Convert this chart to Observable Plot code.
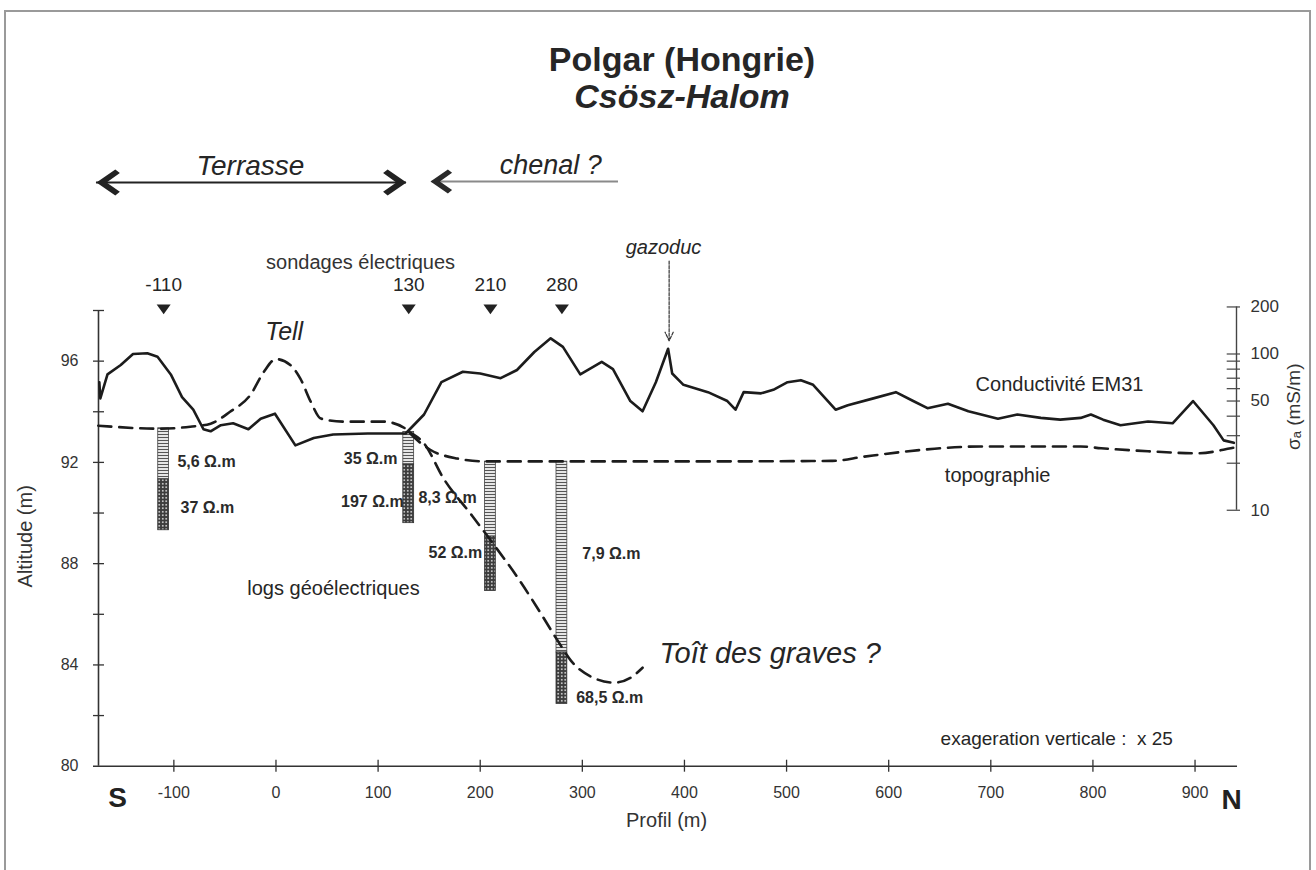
<!DOCTYPE html>
<html><head><meta charset="utf-8">
<script src="https://cdn.jsdelivr.net/npm/d3@7"></script>
<script src="https://cdn.jsdelivr.net/npm/@observablehq/plot@0.6"></script>
<style>
html,body{margin:0;padding:0;background:#fff;}
body{width:1316px;height:870px;position:relative;overflow:hidden;font-family:"Liberation Sans",Arial,sans-serif;color:#222;}
#head{position:relative;height:125px;}
.t{position:absolute;left:432px;width:500px;text-align:center;font-weight:bold;font-size:34px;line-height:34px;white-space:nowrap;color:#262626;}
#t1{top:42px;}
#t2{top:79px;font-style:italic;}
#chart svg{display:block;overflow:visible;}
#frame{position:absolute;left:4px;top:10px;width:1303px;height:900px;border:2px solid #9a9a9a;pointer-events:none;}
</style>
</head><body>
<div id="head"><div class="t" id="t1">Polgar (Hongrie)</div><div class="t" id="t2">Csösz-Halom</div></div>
<div id="chart"></div>
<div id="frame"></div>
<script>
// ---------- data ----------
// Conductivité EM31 (mS/m) along the profile (m)
const condX = [-173,-172,-165,-152,-140,-126,-116,-103,-92,-81,
  -71,-64,-54,-42,-27,-15,-1,19,37,56,
  90,127,145,162,183,200,220,236,253,269,
  281,298,319,330,347,359,372,384,388,399,
  423,442,450,458,475,487,501,514,526,548,
  560,585,607,624,638,658,678,707,726,749,
  768,788,798,810,827,854,878,898,918,928,938];
const condMS = [66,52,74,85,100,101,96,74,53,44,
  33,32,35,36,33,38.5,41.5,26,29,30.5,
  31,31,41,66,77,75,70,79,103,126,
  111,74,89,80,50,43,66,108,75,63.5,
  57,50,44,57,56,59,66,68,63.5,44,
  47,52,57,50,45,48,43,38.5,41,39,
  38,39,41,38,35,37,36,50,35,28,27];
// topographie (altitude m)
const topoX = [-174,-113,-84,-64,-45,-25,-12,0,14,24,34,44,66,105,127,130,151,178,203,357,425,545,575,610,645,690,788,808,854,903,935,940];
const topoAlt = [93.45,93.33,93.41,93.53,94.0,94.67,95.57,96.08,95.85,95.3,94.4,93.73,93.61,93.61,93.33,93.2,92.5,92.15,92.04,92.04,92.04,92.06,92.22,92.4,92.54,92.63,92.63,92.56,92.44,92.36,92.56,92.6];
// Toît des graves ?
const gravX = [130,145,164,191,213,237,256,276,289,311,331,347,359];
const gravAlt = [93.2,92.75,91.37,89.95,88.77,87.43,86.25,84.95,84.16,83.49,83.3,83.49,83.89];
// sondages électriques
const soundings = [-110,130,210,280];
const layerPos = [-110,-110,130,130,210,210,280,280];
const layerTop = [93.35,91.33,93.2,91.92,92.03,89.07,92.03,84.49];
const layerBase = [91.33,89.32,91.92,89.6,89.07,86.92,84.49,82.46];
const layerKind = ["h","d","h","d","h","d","h","d"];
const layerRho = ["5,6","37","35","197","8,3","52","7,9","68,5"];
// tick values
const xTicks = [-100,0,100,200,300,400,500,600,700,800,900];
const leftTicks = [82,84,86,88,90,92,94,96,98];
const leftLabels = [80,84,88,92,96];
const rightTicks = [10,20,30,40,50,60,70,80,90,100,200];
const rightLabels = [10,50,100,200];

// ---------- layout helpers ----------
const X0 = -173.8, X1 = 940.6;       // ends of the x axis (m)
const KX = 1.0212, KY = 25.4;          // px per unit
const sig = v => 90.11 + 6.172 * Math.log10(v / 10); // log conductivity axis -> altitude frame

const cond = condX.map((x, i) => ({x, y: sig(condMS[i])}));
const topo = topoX.map((x, i) => ({x, y: topoAlt[i]}));
const grav = gravX.map((x, i) => ({x, y: gravAlt[i]}));
const layers = layerPos.map((p, i) => ({p, top: layerTop[i], base: layerBase[i], kind: layerKind[i], rho: layerRho[i]}));

// resistivity label placement
const rhoLabX = [-96.5,-93.5,119,125,139.5,202,300,294];
const rhoLabY = [92.04,90.19,92.15,90.46,90.58,88.41,88.37,82.70];
const rhoAnchor = ["start","start","end","end","start","end","start","start"];
const rhoLabels = layers.map((d, i) => ({x: rhoLabX[i], y: rhoLabY[i], a: rhoAnchor[i], t: d.rho + " \u03A9.m"}));

// custom symbols
const headLeft = {draw(ctx, size) { const r = Math.sqrt(size / Math.PI);
  ctx.moveTo(0, 0); ctx.lineTo(1.45*r, -r); ctx.lineTo(1.8*r, -0.72*r); ctx.lineTo(0.78*r, 0);
  ctx.lineTo(1.8*r, 0.72*r); ctx.lineTo(1.45*r, r); ctx.closePath(); }};
const headRight = {draw(ctx, size) { const r = Math.sqrt(size / Math.PI);
  ctx.moveTo(0, 0); ctx.lineTo(-1.45*r, -r); ctx.lineTo(-1.8*r, -0.72*r); ctx.lineTo(-0.78*r, 0);
  ctx.lineTo(-1.8*r, 0.72*r); ctx.lineTo(-1.45*r, r); ctx.closePath(); }};
const triDown = {draw(ctx, size) { const r = Math.sqrt(size / Math.PI);
  ctx.moveTo(-r, -0.65*r); ctx.lineTo(r, -0.65*r); ctx.lineTo(0, 0.75*r); ctx.closePath(); }};

const INK = "#1c1c1c";
const FONT = '"Liberation Sans", Arial, sans-serif';

const chart = Plot.plot({
  width: 1316, height: 745,
  marginLeft: 98, marginRight: 80, marginTop: 185, marginBottom: 104.3,
  x: {domain: [X0, X1], axis: null},
  y: {domain: [80, 98], axis: null},
  style: {fontFamily: FONT, fontSize: "16px", color: "#222", background: "transparent", overflow: "visible"},
  marks: [
    // axes
    Plot.ruleY([80], {x1: X0 - 5 / KX, x2: X1 + 1, stroke: "#333", strokeWidth: 1.6}),
    Plot.ruleX([X0], {y1: 80, y2: 98, stroke: "#333", strokeWidth: 1.6}),
    Plot.ruleY(leftTicks, {x1: X0 - 5 / KX, x2: X0 + 6 / KX, stroke: "#333", strokeWidth: 1.3}),
    Plot.ruleX(xTicks, {y1: 80 - 6 / KY, y2: 80 + 6 / KY, stroke: "#333", strokeWidth: 1.3}),
    Plot.ruleX([X1], {y1: sig(10), y2: sig(200), stroke: "#444", strokeWidth: 1.4}),
    Plot.ruleY(rightTicks, {y: d => sig(d), x1: X1 - 9.3 / KX, x2: X1 + 4 / KX, stroke: "#444", strokeWidth: 1.2}),
    Plot.text(leftLabels, {x: X0 - 20 / KX, y: d => d, text: d => String(d), textAnchor: "end", fontSize: 16, fill: "#333"}),
    Plot.text(xTicks, {x: d => d, y: 80 - 26.3 / KY, text: d => String(d), fontSize: 16, fill: "#333"}),
    Plot.text(rightLabels, {x: X1 + 14 / KX, y: d => sig(d), text: d => String(d), textAnchor: "start", fontSize: 17, fill: "#333"}),
    Plot.text(["Altitude (m)"], {x: X0 - 73 / KX, y: 89.08, text: d => d, rotate: -90, fontSize: 20, fill: "#333"}),
    Plot.text(["\u03C3\u2090 (mS/m)"], {x: X1 + 57 / KX, y: 94.2, text: d => d, rotate: -90, fontSize: 19, fill: "#333"}),
    Plot.text(["Profil (m)"], {x: 382.5, y: 77.86, text: d => d, fontSize: 20, fill: "#333"}),
    Plot.text(["S"], {x: -155.2, y: 78.73, text: d => d, fontSize: 28, fontWeight: "bold", fill: "#222"}),
    Plot.text(["N"], {x: 935.8, y: 78.65, text: d => d, fontSize: 28, fontWeight: "bold", fill: "#222"}),

    // sounding columns
    Plot.rect(layers.filter(d => d.kind === "h"), {x1: d => d.p - 5.3, x2: d => d.p + 5.3, y1: "base", y2: "top", fill: "url(#hatchH)", stroke: "#444", strokeWidth: 0.8}),
    Plot.rect(layers.filter(d => d.kind === "d"), {x1: d => d.p - 5.3, x2: d => d.p + 5.3, y1: "base", y2: "top", fill: "url(#hatchD)", stroke: "#333", strokeWidth: 0.8}),
    Plot.text(rhoLabels.filter(d => d.a === "start"), {x: "x", y: "y", text: "t", textAnchor: "start", fontSize: 16, fontWeight: "bold", fill: "#2a2a2a"}),
    Plot.text(rhoLabels.filter(d => d.a === "end"), {x: "x", y: "y", text: "t", textAnchor: "end", fontSize: 16, fontWeight: "bold", fill: "#2a2a2a"}),

    // curves
    Plot.line(topo, {x: "x", y: "y", curve: "monotone-x", stroke: INK, strokeWidth: 2.6, strokeDasharray: "13,8"}),
    Plot.line(grav, {x: "x", y: "y", curve: "monotone-x", stroke: INK, strokeWidth: 2.6, strokeDasharray: "13,8"}),
    Plot.line(cond, {x: "x", y: "y", stroke: INK, strokeWidth: 2.6, strokeLinejoin: "round"}),

    // sounding markers
    Plot.dot(soundings, {x: d => d, y: 98.06, symbol: triDown, r: 7, fill: "#222", stroke: "none"}),
    Plot.text(soundings, {x: d => d, y: 99.0, text: d => String(d), fontSize: 19, fill: "#262626"}),
    Plot.text(["sondages électriques"], {x: 82.8, y: 99.9, text: d => d, fontSize: 20, fill: "#333"}),

    // gazoduc
    Plot.arrow([385], {x1: d => d, x2: d => d, y1: 99.95, y2: 96.8, stroke: "#333", strokeWidth: 1.2, strokeDasharray: "3,1.5", headLength: 12, headAngle: 50}),
    Plot.text(["gazoduc"], {x: 379.5, y: 100.5, text: d => d, fontSize: 20, fontStyle: "italic", fill: "#262626"}),

    // Terrasse / chenal arrows
    Plot.ruleY([103.06], {x1: -175.8, x2: 127.8, stroke: "#222", strokeWidth: 2}),
    Plot.dot([-175.8], {x: d => d, y: 103.06, symbol: headLeft, r: 13, fill: "#222", stroke: "none"}),
    Plot.dot([127.8], {x: d => d, y: 103.06, symbol: headRight, r: 13, fill: "#222", stroke: "none"}),
    Plot.text(["Terrasse"], {x: -25, y: 103.72, text: d => d, fontSize: 28, fontStyle: "italic", fill: "#262626"}),
    Plot.ruleY([103.1], {x1: 153, x2: 335.4, stroke: "#8a8a8a", strokeWidth: 2}),
    Plot.dot([151.3], {x: d => d, y: 103.1, symbol: headLeft, r: 12, fill: "#2a2a2a", stroke: "none"}),
    Plot.text(["chenal ?"], {x: 269, y: 103.72, text: d => d, fontSize: 27, fontStyle: "italic", fill: "#262626"}),

    // other annotations
    Plot.text(["Tell"], {x: 8, y: 97.15, text: d => d, fontSize: 25, fontStyle: "italic", fill: "#262626"}),
    Plot.text(["logs géoélectriques"], {x: 56.3, y: 87.03, text: d => d, fontSize: 20, fill: "#262626"}),
    Plot.text(["Conductivité EM31"], {x: 767.3, y: 95.07, text: d => d, fontSize: 20, fill: "#262626"}),
    Plot.text(["topographie"], {x: 706.7, y: 91.48, text: d => d, fontSize: 20, fill: "#262626"}),
    Plot.text(["Toît des graves ?"], {x: 375.6, y: 84.44, text: d => d, textAnchor: "start", fontSize: 29, fontStyle: "italic", fill: "#262626"}),
    Plot.text(["exageration verticale :\u00a0\u00a0x 25"], {x: 650.8, y: 81.09, text: d => d, textAnchor: "start", fontSize: 19, fill: "#262626"})
  ]
});

d3.select(chart).insert("defs", ":first-child").html(
  '<pattern id="hatchH" patternUnits="userSpaceOnUse" width="6" height="3">' +
    '<rect width="6" height="3" fill="#e6e6e6"/><rect width="6" height="1" fill="#555"/></pattern>' +
  '<pattern id="hatchD" patternUnits="userSpaceOnUse" width="3.5" height="3.5">' +
    '<rect width="3.5" height="3.5" fill="#3c3c3c"/><rect x="1" y="1" width="1.5" height="1.5" fill="#f2f2f2"/></pattern>'
);
document.getElementById("chart").appendChild(chart);
</script>
</body></html>
